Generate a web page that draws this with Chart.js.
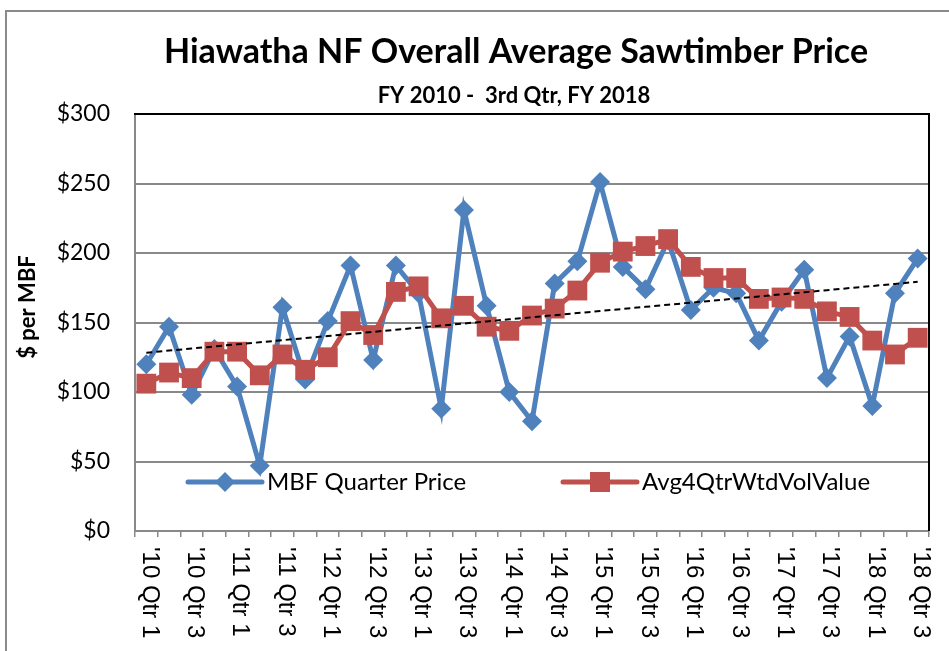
<!DOCTYPE html>
<html>
<head>
<meta charset="utf-8">
<script src="https://cdn.jsdelivr.net/npm/chart.js@4.4.1/dist/chart.umd.min.js"></script>
<style>
html,body{margin:0;padding:0;background:#ffffff;}
canvas{display:block;}
</style>
</head>
<body>
<canvas id="chart" width="949" height="651"></canvas>
<script>
// ---- data ----
const quarters = [
  "'10 Qtr 1","'10 Qtr 2","'10 Qtr 3","'10 Qtr 4",
  "'11 Qtr 1","'11 Qtr 2","'11 Qtr 3","'11 Qtr 4",
  "'12 Qtr 1","'12 Qtr 2","'12 Qtr 3","'12 Qtr 4",
  "'13 Qtr 1","'13 Qtr 2","'13 Qtr 3","'13 Qtr 4",
  "'14 Qtr 1","'14 Qtr 2","'14 Qtr 3","'14 Qtr 4",
  "'15 Qtr 1","'15 Qtr 2","'15 Qtr 3","'15 Qtr 4",
  "'16 Qtr 1","'16 Qtr 2","'16 Qtr 3","'16 Qtr 4",
  "'17 Qtr 1","'17 Qtr 2","'17 Qtr 3","'17 Qtr 4",
  "'18 Qtr 1","'18 Qtr 2","'18 Qtr 3"
];
const mbfQuarterPrice = [
  120,147,98,131, 104,47,161,109, 151,191,123,191, 171,88,231,162,
  100,79,178,194, 251,190,174,209, 159,175,171,137, 165,188,110,140,
  90,171,196
];
const avg4QtrWtdVolValue = [
  106,114,110,129, 129,112,127,116, 125,151,141,172, 176,153,162,147,
  144,155,160,173, 193,201,205,210, 190,182,182,167, 168,167,158,154,
  137,127,139
];
const yTickValues = [0,50,100,150,200,250,300];
const seriesNames = ["MBF Quarter Price","Avg4QtrWtdVolValue"];
const titleText = "Hiawatha NF Overall Average Sawtimber Price";
const subtitleText = "FY 2010 -  3rd Qtr, FY 2018";
const yAxisTitle = "$ per MBF";

// linear trend (least squares) of the 4-quarter weighted average
function linearTrend(vals){
  const n = vals.length;
  let sx=0, sy=0, sxx=0, sxy=0;
  vals.forEach((v,i)=>{ sx+=i; sy+=v; sxx+=i*i; sxy+=i*v; });
  const b = (n*sxy - sx*sy)/(n*sxx - sx*sx);
  const a = (sy - b*sx)/n;
  return vals.map((v,i)=>a+b*i);
}
const trend = linearTrend(avg4QtrWtdVolValue);

const BLUE = '#4F81BD';
const RED = '#C0504D';
const GRID = '#898989';

// ---- plugins ----
const framePlugin = {
  id: 'frame',
  beforeDraw(chart){
    const ctx = chart.ctx;
    ctx.save();
    ctx.fillStyle = '#ffffff';
    ctx.fillRect(0,0,chart.width,chart.height);
    ctx.strokeStyle = '#8a8a8a';
    ctx.lineWidth = 2;
    ctx.beginPath();
    ctx.moveTo(6, chart.height);
    ctx.lineTo(6, 11);
    ctx.lineTo(chart.width, 11);
    ctx.stroke();
    ctx.restore();
  },
  afterDraw(chart){
    const ctx = chart.ctx, a = chart.chartArea;
    ctx.save();
    ctx.strokeStyle = '#000000';
    ctx.lineWidth = 2;
    ctx.beginPath();
    ctx.moveTo(a.left-1, a.top);
    ctx.lineTo(a.right, a.top);
    ctx.lineTo(a.right, a.bottom);
    ctx.stroke();
    ctx.restore();
  }
};

const titlePlugin = {
  id: 'titles',
  afterDraw(chart){
    const ctx = chart.ctx;
    ctx.save();
    ctx.fillStyle = '#000';
    ctx.textAlign = 'center';
    ctx.textBaseline = 'alphabetic';
    ctx.font = 'bold 34px Lato, "Open Sans", sans-serif';
    ctx.fillText(titleText, 516, 63);
    ctx.font = 'bold 22px Lato, "Open Sans", sans-serif';
    ctx.fillText(subtitleText, 514, 103);
    // y axis title
    ctx.translate(28, 307);
    ctx.rotate(-Math.PI/2);
    ctx.textBaseline = 'middle';
    ctx.font = 'bold 22px Lato, "Open Sans", sans-serif';
    ctx.fillText(yAxisTitle, 0, 0);
    ctx.restore();
  }
};

const xLabelPlugin = {
  id: 'xLabels',
  afterDraw(chart){
    const ctx = chart.ctx, xs = chart.scales.x, a = chart.chartArea;
    ctx.save();
    ctx.fillStyle = '#000';
    ctx.font = '24px "Liberation Sans", Arial, sans-serif';
    ctx.textAlign = 'left';
    ctx.textBaseline = 'middle';
    quarters.forEach((lab,i)=>{
      if (i % 2 !== 0) return;
      const x = xs.getPixelForValue(i);
      ctx.save();
      ctx.translate(x + 3, a.bottom + 16);
      ctx.rotate(Math.PI/2);
      ctx.fillText(lab, 0, 0);
      ctx.restore();
    });
    ctx.restore();
  }
};

const legendPlugin = {
  id: 'customLegend',
  afterDraw(chart){
    const ctx = chart.ctx;
    const items = [
      {name: seriesNames[0], color: BLUE, shape: 'diamond', x0: 188, x1: 262},
      {name: seriesNames[1], color: RED, shape: 'square', x0: 563, x1: 637}
    ];
    const y = 482;
    ctx.save();
    items.forEach(it=>{
      ctx.strokeStyle = it.color;
      ctx.lineWidth = 5;
      ctx.lineCap = 'round';
      ctx.beginPath();
      ctx.moveTo(it.x0, y); ctx.lineTo(it.x1, y);
      ctx.stroke();
      const cx = (it.x0+it.x1)/2;
      ctx.fillStyle = it.color;
      ctx.beginPath();
      if (it.shape === 'diamond'){
        ctx.moveTo(cx, y-10); ctx.lineTo(cx+10, y); ctx.lineTo(cx, y+10); ctx.lineTo(cx-10, y);
        ctx.closePath();
      } else {
        ctx.rect(cx-10, y-10, 20, 20);
      }
      ctx.fill();
      ctx.fillStyle = '#000';
      ctx.font = '24px Lato, "Open Sans", sans-serif';
      ctx.textAlign = 'left';
      ctx.textBaseline = 'middle';
      ctx.fillText(it.name, it.x1 + 5, y);
    });
    ctx.restore();
  }
};

// ---- chart ----
new Chart(document.getElementById('chart'), {
  type: 'line',
  data: {
    labels: quarters,
    datasets: [
      {
        label: 'Linear trend',
        data: trend,
        borderColor: '#000',
        borderWidth: 2,
        borderDash: [6,4],
        pointRadius: 0,
        fill: false,
        tension: 0,
        order: 0
      },
      {
        label: seriesNames[1],
        data: avg4QtrWtdVolValue,
        borderColor: RED,
        backgroundColor: RED,
        borderWidth: 5,
        pointStyle: 'rect',
        pointRadius: 14,
        pointBorderWidth: 0,
        pointBackgroundColor: RED,
        tension: 0,
        order: 1
      },
      {
        label: seriesNames[0],
        data: mbfQuarterPrice,
        borderColor: BLUE,
        backgroundColor: BLUE,
        borderWidth: 5,
        pointStyle: 'rectRot',
        pointRadius: 10,
        pointBorderWidth: 0,
        pointBackgroundColor: BLUE,
        tension: 0,
        order: 2
      }
    ]
  },
  options: {
    responsive: false,
    animation: false,
    devicePixelRatio: 1,
    layout: { padding: { top: 114, right: 20, left: 0, bottom: 0 } },
    plugins: {
      legend: { display: false },
      title: { display: false },
      tooltip: { enabled: false }
    },
    scales: {
      x: {
        type: 'category',
        offset: true,
        grid: {
          display: true,
          offset: true,
          drawOnChartArea: false,
          drawTicks: true,
          tickLength: 6,
          color: GRID,
          lineWidth: 1.5
        },
        border: { display: true, color: GRID, width: 2 },
        ticks: { display: false, autoSkip: false },
        afterFit(scale){ scale.height = 120; }
      },
      y: {
        min: 0,
        max: 300,
        afterBuildTicks(scale){ scale.ticks = yTickValues.map(v=>({value:v})); },
        grid: { color: GRID, lineWidth: 2, drawTicks: false },
        border: { display: true, color: GRID, width: 2 },
        ticks: {
          padding: 25,
          color: '#000',
          font: { family: 'Lato, "Open Sans", sans-serif', size: 23 },
          callback: v => '$' + v
        },
        afterFit(scale){ scale.width = 135; }
      }
    }
  },
  plugins: [framePlugin, titlePlugin, xLabelPlugin, legendPlugin]
});
</script>
</body>
</html>
